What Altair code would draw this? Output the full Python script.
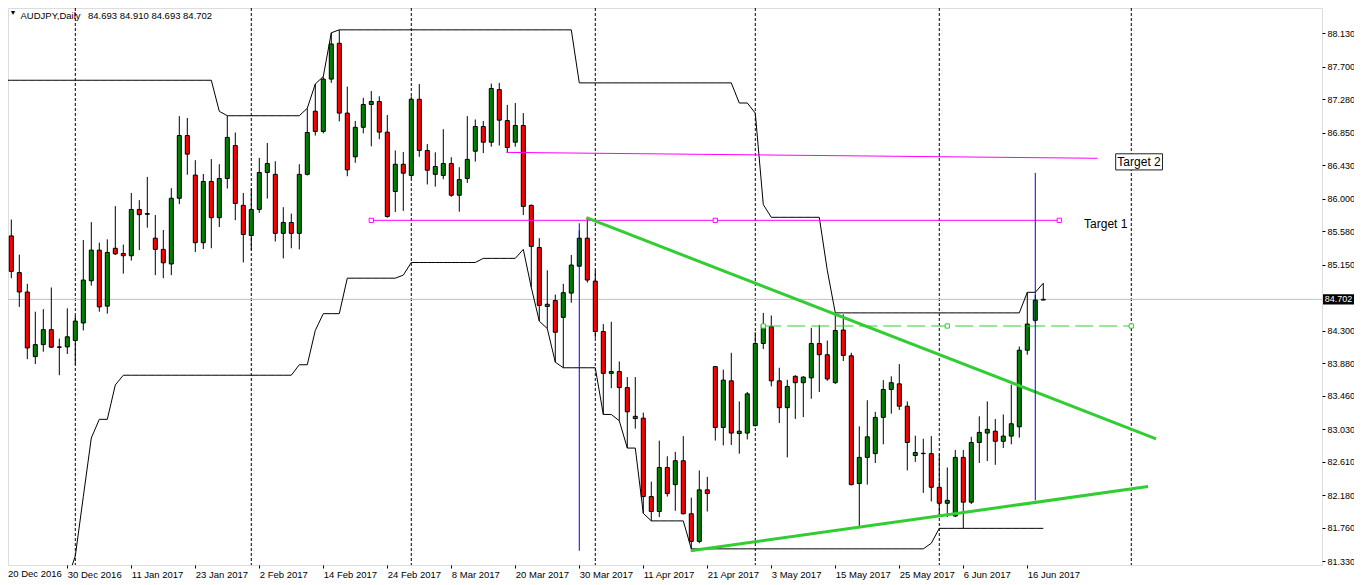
import altair as alt
import pandas as pd

# ---------------- data ----------------
opens = [84.797, 85.519, 85.047, 84.797, 83.965, 84.119, 84.312, 84.090, 84.090, 84.172,
         84.398, 84.942, 85.336, 84.615, 85.360, 85.293, 85.264, 85.860, 85.807, 85.490,
         85.346, 85.158, 86.004, 86.812, 86.303, 85.432, 86.221, 85.754, 86.259, 86.683,
         85.913, 85.524, 85.860, 86.336, 86.312, 85.552, 85.692, 85.552, 86.312, 87.125,
         86.865, 87.539, 88.000, 87.101, 86.538, 86.918, 87.212, 87.250, 86.856, 86.091,
         86.442, 86.298, 87.279, 86.620, 86.312, 86.298, 86.452, 86.043, 86.259, 86.610,
         86.928, 86.726, 87.404, 87.005, 86.726, 86.942, 85.913, 85.370, 84.610, 84.687,
         84.470, 84.783, 85.129, 85.490, 84.937, 84.288, 83.749, 83.773, 83.566, 83.167,
         83.172, 82.162, 81.970, 82.537, 82.316, 82.624, 81.941, 81.585, 82.249, 83.836,
         83.052, 83.653, 82.975, 82.980, 83.076, 84.134, 84.350, 83.653, 83.307, 83.711,
         83.629, 83.691, 84.134, 83.989, 83.629, 84.307, 83.975, 82.330, 82.667, 82.715,
         83.182, 83.542, 83.614, 83.326, 82.691, 82.720, 82.715, 82.282, 82.076, 81.912,
         82.667, 82.090, 82.859, 82.980, 83.004, 82.874, 82.941, 83.061, 84.047, 84.432,
         84.693]
highs = [85.711, 85.730, 85.278, 84.903, 84.543, 84.576, 84.855, 84.196, 84.586, 84.494,
         85.466, 85.697, 85.432, 85.475, 85.903, 85.408, 86.072, 85.980, 86.279, 85.788,
         85.596, 86.134, 87.062, 87.038, 86.495, 86.317, 86.509, 86.442, 87.067, 86.851,
         86.072, 86.130, 86.524, 86.716, 86.481, 85.889, 85.807, 86.442, 87.163, 87.476,
         87.572, 88.135, 88.173, 87.442, 87.000, 87.298, 87.385, 87.317, 87.077, 86.620,
         86.601, 87.317, 87.476, 86.702, 86.596, 86.894, 86.533, 86.404, 87.062, 87.019,
         87.000, 87.481, 87.490, 87.207, 87.231, 87.101, 85.923, 85.490, 85.076, 84.764,
         84.903, 85.274, 85.591, 85.759, 85.076, 84.384, 84.413, 83.903, 83.701, 83.701,
         83.244, 82.354, 82.883, 82.681, 82.739, 82.941, 82.148, 82.499, 82.417, 83.845,
         83.797, 84.014, 83.388, 83.509, 84.278, 84.528, 84.494, 83.821, 83.667, 83.725,
         83.711, 84.336, 84.374, 84.172, 84.528, 84.509, 84.014, 83.066, 83.403, 83.254,
         83.662, 83.711, 83.869, 83.388, 82.946, 82.907, 82.941, 82.715, 82.537, 82.763,
         82.763, 82.932, 83.196, 83.388, 83.162, 83.220, 83.605, 84.095, 84.793, 84.760,
         84.910]
lows = [84.773, 84.975, 84.605, 83.932, 83.869, 84.028, 84.076, 83.725, 83.999, 83.860,
        84.302, 84.879, 84.543, 84.518, 85.274, 85.033, 85.201, 85.336, 85.625, 85.014,
        84.975, 85.014, 85.928, 86.307, 85.312, 85.350, 85.360, 85.634, 86.130, 85.721,
        85.177, 85.336, 85.817, 86.000, 85.447, 85.230, 85.360, 85.346, 86.298, 86.812,
        86.841, 87.490, 86.995, 86.288, 86.461, 86.841, 86.673, 86.764, 85.754, 85.827,
        85.841, 86.259, 86.538, 86.182, 86.154, 86.250, 86.024, 85.831, 86.202, 86.476,
        86.586, 86.668, 86.683, 86.591, 86.668, 85.788, 84.855, 84.422, 84.326, 83.893,
        83.821, 84.658, 85.120, 84.918, 84.206, 83.220, 83.557, 83.138, 82.787, 83.037,
        81.946, 81.849, 81.898, 82.162, 81.979, 81.931, 81.489, 81.561, 81.970, 82.883,
        82.821, 82.826, 82.715, 82.898, 83.066, 84.062, 83.581, 83.109, 82.667, 83.162,
        83.186, 83.422, 83.509, 83.653, 83.614, 83.908, 82.306, 81.753, 82.316, 82.595,
        82.835, 83.230, 83.278, 82.499, 82.609, 82.210, 82.100, 81.931, 81.898, 81.898,
        81.753, 82.066, 82.595, 82.619, 82.571, 82.787, 82.835, 82.922, 83.989, 84.400,
        84.693]
closes = [85.519, 85.062, 84.797, 84.076, 84.119, 84.312, 84.086, 84.084, 84.220, 84.422,
          84.951, 85.336, 84.605, 85.307, 85.288, 85.264, 85.860, 85.793, 85.798, 85.346,
          85.173, 86.004, 86.812, 86.572, 85.432, 86.221, 85.754, 86.259, 86.788, 85.937,
          85.538, 85.860, 86.336, 86.452, 85.552, 85.692, 85.552, 86.312, 86.851, 86.865,
          87.539, 87.991, 87.101, 86.370, 86.918, 87.212, 87.250, 86.856, 85.769, 86.442,
          86.327, 87.279, 86.620, 86.365, 86.413, 86.452, 86.043, 86.245, 86.505, 86.928,
          86.726, 87.418, 87.010, 86.658, 86.942, 85.899, 85.384, 84.624, 84.639, 84.278,
          84.788, 85.144, 85.490, 84.951, 84.288, 83.749, 83.773, 83.566, 83.254, 83.196,
          82.162, 81.970, 82.537, 82.201, 82.624, 81.941, 81.585, 82.249, 82.201, 83.052,
          83.662, 82.980, 83.004, 83.485, 84.134, 84.374, 83.653, 83.307, 83.581, 83.629,
          83.701, 84.134, 83.989, 83.677, 84.302, 83.980, 82.316, 82.667, 82.932, 83.182,
          83.542, 83.629, 83.326, 82.859, 82.730, 82.715, 82.282, 82.076, 82.114, 82.667,
          82.090, 82.859, 82.989, 83.028, 82.874, 82.941, 83.100, 84.047, 84.384, 84.693,
          84.702]

# channel values coming from bars older than the visible window
upper_before = [87.524, 87.524, 87.524, 87.524, 87.524, 87.524, 87.524, 87.524, 87.524, 87.524,
                87.524, 87.524, 87.524, 87.524, 87.524, 87.524, 87.524, 87.524, 87.524, 87.524,
                87.524, 87.524, 87.524, 87.524, 87.524, 87.524, 87.524, 87.124]
lower_before = [81.09, 81.09, 81.09, 81.09, 81.09, 81.09, 81.09, 81.09, 81.09, 81.397,
                82.160, 82.917, 83.157, 83.157, 83.599]
channel_period = 30

date_labels = ["20 Dec 2016", "30 Dec 2016", "11 Jan 2017", "23 Jan 2017", "2 Feb 2017",
               "14 Feb 2017", "24 Feb 2017", "8 Mar 2017", "20 Mar 2017", "30 Mar 2017",
               "11 Apr 2017", "21 Apr 2017", "3 May 2017", "15 May 2017", "25 May 2017",
               "6 Jun 2017", "16 Jun 2017"]
label_step = 8
price_ticks = [88.130, 87.700, 87.280, 86.850, 86.430, 86.000, 85.580, 85.150,
               84.300, 83.880, 83.460, 83.030, 82.610, 82.180, 81.760, 81.330]
month_separators = [9, 31, 51, 74, 94, 117, 141]
last_price = 84.702

# chart objects (bar index, price)
down_trend_x = [72.9, 144.1]
down_trend_y = [85.754, 82.906]
up_trend_x = [85.92, 143.1]
up_trend_y = [81.464, 82.291]
target1_x = [46, 89, 132]
target1_y = 85.720
target2_x = [62.9, 136.8]
target2_y = [86.595, 86.519]
neck_x = [95, 118, 141]
neck_y = 84.359
measure_x = [72, 129]
measure_top = [85.682, 86.331]
measure_bottom = [81.464, 82.114]

# ---------------- build ----------------
W, H = 1314, 557
XMIN, XMAX = 0.5875, 164.84
YMIN, YMAX = 81.281, 88.4545
FONT = "Liberation Sans"

n = len(opens)
upper, lower = [], []
for i in range(n):
    lo = max(0, i - channel_period + 1)
    u = max(highs[lo:i + 1])
    d = min(lows[lo:i + 1])
    if i < len(upper_before):
        u = max(u, upper_before[i])
    if i < len(lower_before):
        d = min(d, lower_before[i])
    upper.append(u)
    lower.append(d)

df = pd.DataFrame({"i": list(range(n)), "o": opens, "h": highs, "l": lows, "c": closes,
                   "up": upper, "dn": lower})
df["dir"] = ["up" if c >= o else "down" for o, c in zip(opens, closes)]

xs = alt.Scale(domain=[XMIN, XMAX], nice=False, zero=False)
ys = alt.Scale(domain=[YMIN, YMAX], nice=False, zero=False)

label_expr = "[" + ",".join("'" + s + "'" for s in date_labels) + "][round(datum.value / %d)]" % label_step
xaxis = alt.Axis(values=[k * label_step for k in range(1, len(date_labels))], labelExpr=label_expr,
                 labelAlign="left", labelBaseline="top", labelPadding=1, tickSize=3,
                 tickColor="black", tickWidth=1, domain=False, grid=False, title=None,
                 labelFont=FONT, labelFontSize=9.5, labelColor="black",
                 labelFlush=False, labelOverlap=False, labelBound=False)
yaxis = alt.Axis(orient="right", values=price_ticks, format=".3f", tickSize=3, tickColor="black",
                 tickWidth=1, labelPadding=2, domain=False, grid=False, title=None,
                 labelFont=FONT, labelFontSize=9, labelColor="black",
                 labelFlush=False, labelOverlap=False, labelBound=False)


def X(f):
    return alt.X(f, scale=xs, axis=xaxis, title=None)


def Y(f):
    return alt.Y(f, scale=ys, axis=yaxis, title=None)


grid = alt.Chart(pd.DataFrame({"s": month_separators})).mark_rule(
    color="black", strokeWidth=1, strokeDash=[3, 2]).encode(x=X("s:Q"))

cur = alt.Chart(pd.DataFrame({"p": [last_price]})).mark_rule(
    color="#C0C0C0", strokeWidth=1).encode(y=Y("p:Q"))

chan_up = alt.Chart(df).mark_line(color="black", strokeWidth=1, clip=True).encode(
    x=X("i:Q"), y=Y("up:Q"))
chan_dn = alt.Chart(df).mark_line(color="black", strokeWidth=1, clip=True).encode(
    x=X("i:Q"), y=Y("dn:Q"))

wick = alt.Chart(df).mark_rule(color="black", strokeWidth=1, clip=True).encode(
    x=X("i:Q"), y=Y("l:Q"), y2="h:Q")

body = alt.Chart(df).transform_calculate(
    x1="datum.i - 0.25", x2="datum.i + 0.25").mark_rect(stroke="black", strokeWidth=1, clip=True).encode(
    x=X("x1:Q"), x2="x2:Q",
    y=Y("o:Q"), y2="c:Q",
    fill=alt.Fill("dir:N", scale=alt.Scale(domain=["up", "down"], range=["#008000", "#FF0000"]),
                  legend=None))


def seg(xv, yv, color, width, dash=None):
    kw = dict(color=color, strokeWidth=width, clip=True)
    if dash:
        kw["strokeDash"] = dash
    return alt.Chart(pd.DataFrame({"x": xv, "y": yv})).mark_line(**kw).encode(
        x=X("x:Q"), y=Y("y:Q"))


t1_line = seg([target1_x[0], target1_x[-1]], [target1_y, target1_y], "#FF00FF", 1)
t2_line = seg(target2_x, target2_y, "#FF00FF", 1)
neck_line = seg([neck_x[0], neck_x[-1]], [neck_y, neck_y], "#32CD32", 1.2, [18, 6])
down_line = seg(down_trend_x, down_trend_y, "#32CD32", 3)
up_line = seg(up_trend_x, up_trend_y, "#32CD32", 3)

measure = alt.Chart(pd.DataFrame({"x": measure_x, "a": measure_top, "b": measure_bottom})).mark_rule(
    color="#0000FF", strokeWidth=1).encode(x=X("x:Q"), y=Y("a:Q"), y2="b:Q")

sq_pink = alt.Chart(pd.DataFrame({"x": target1_x, "y": [target1_y] * len(target1_x)})).mark_square(
    size=18, fill="white", stroke="#FF00FF", strokeWidth=1, opacity=1).encode(x=X("x:Q"), y=Y("y:Q"))
sq_green = alt.Chart(pd.DataFrame({"x": neck_x, "y": [neck_y] * len(neck_x)})).mark_square(
    size=18, fill="white", stroke="#32CD32", strokeWidth=1, opacity=1).encode(x=X("x:Q"), y=Y("y:Q"))

t1_text = alt.Chart(pd.DataFrame({"x": [135.1], "y": [85.673], "t": ["Target 1"]})).mark_text(
    align="left", baseline="middle", font=FONT, fontSize=12, color="black").encode(
    x=X("x:Q"), y=Y("y:Q"), text="t:N")
t2_box = alt.Chart(pd.DataFrame({"x": [139.05], "x2": [144.9], "y": [86.577], "y2": [86.369]})).mark_rect(
    fill="white", stroke="#202020", strokeWidth=1).encode(x=X("x:Q"), x2="x2:Q", y=Y("y:Q"), y2="y2:Q")
t2_text = alt.Chart(pd.DataFrame({"x": [141.97], "y": [86.473], "t": ["Target 2"]})).mark_text(
    align="center", baseline="middle", font=FONT, fontSize=12, color="black").encode(
    x=X("x:Q"), y=Y("y:Q"), text="t:N")

hdr_df = pd.DataFrame({"t": ["x"]})
tri = alt.Chart(hdr_df).mark_text(text="▼", fontSize=7, color="black", align="center",
                                  baseline="middle").encode(x=alt.value(5), y=alt.value(5))
hdr1 = alt.Chart(hdr_df).mark_text(text="AUDJPY,Daily", font=FONT, fontSize=9.5, color="black",
                                   align="left", baseline="alphabetic").encode(
    x=alt.value(12.5), y=alt.value(10.5))
hdr2 = alt.Chart(hdr_df).mark_text(text="84.693 84.910 84.693 84.702", font=FONT, fontSize=9.5,
                                   color="black", align="left", baseline="alphabetic").encode(
    x=alt.value(80), y=alt.value(10.5))
# first date label sits at the very left edge (its bar lies under the frame)
first_lbl = alt.Chart(pd.DataFrame({"t": [date_labels[0]]})).mark_text(
    font=FONT, fontSize=9.5, color="black", align="left", baseline="top").encode(
    x=alt.value(0), y=alt.value(H + 4), text="t:N")

price_box = alt.Chart(pd.DataFrame({"p": [last_price]})).transform_calculate(
    lo="datum.p - 0.066", hi="datum.p + 0.066").mark_rect(fill="black").encode(
    x=alt.value(W + 1), x2=alt.value(W + 32), y=Y("lo:Q"), y2="hi:Q")
price_txt = alt.Chart(pd.DataFrame({"p": [last_price], "t": ["84.702"]})).mark_text(
    font=FONT, fontSize=9, color="white", align="center", baseline="middle").encode(
    x=alt.value(W + 16.5), y=Y("p:Q"), text="t:N")

chart = alt.layer(
    grid, cur, chan_up, chan_dn, wick, body,
    t1_line, t2_line, neck_line, down_line, up_line, measure, sq_pink, sq_green,
    t1_text, t2_box, t2_text, tri, hdr1, hdr2, first_lbl, price_box, price_txt
).properties(
    width=W, height=H,
    autosize=alt.AutoSizeParams(type="none"),
    padding={"left": 0, "top": 0, "right": 32, "bottom": 16}
).configure_view(stroke="black", strokeWidth=1, fill="white").configure(background="white")

chart.save("out.html", embed_options={"renderer": "svg", "actions": False})
